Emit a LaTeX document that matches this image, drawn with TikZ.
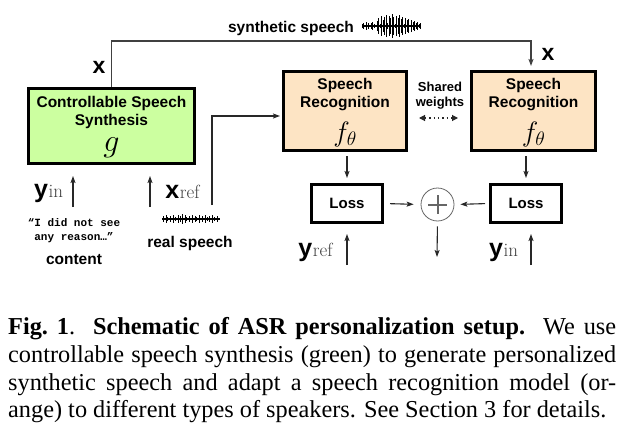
\documentclass[tikz,border=0pt]{standalone}
\usepackage{fix-cm}
\usepackage{fontspec}
\newfontfamily\hv{Liberation Sans}
\newfontfamily\tms{Liberation Serif}
\newfontfamily\mono{Liberation Mono}
\usetikzlibrary{arrows.meta,calc}
\definecolor{grn}{RGB}{204,255,160}
\definecolor{org}{RGB}{253,228,196}
\definecolor{ln}{RGB}{40,40,40}
\newcommand{\fsz}[1]{\fontsize{#1}{#1}\selectfont}
\newcommand{\sublbl}[3]{{\hv\bfseries\fsz{#1}#2}\kern0.6pt{\rmfamily\mdseries\fsz{19}\color{black!75}#3}}
\begin{document}
\begin{tikzpicture}[x=1pt,y=-1pt,
  blk/.style={draw=black, line width=2.6pt, inner sep=0pt},
  lbl/.style={font=\hv\bfseries\fsz{15.5}, inner sep=0pt},
  arr/.style={draw=ln, line width=1.1pt, -{Stealth[length=7pt,width=5pt,inset=1.5pt]}},
  wave/.style={draw=black, line width=0.8pt},
]
\path[use as bounding box] (0,0) rectangle (634,439);

% boxes
\node[blk, fill=grn, minimum width=166.4pt, minimum height=75.4pt] (g) at (111.5,126) {};
\node[blk, fill=org, minimum width=123.4pt, minimum height=79.4pt] (sr1) at (345,111) {};
\node[blk, fill=org, minimum width=124.4pt, minimum height=79.4pt] (sr2) at (533.5,111) {};
\node[blk, fill=white, minimum width=71.4pt, minimum height=38.4pt] (l1) at (347,203.5) {};
\node[blk, fill=white, minimum width=71.4pt, minimum height=38.4pt] (l2) at (526,203.5) {};
\node[circle, draw=black!60, line width=0.8pt, minimum size=33pt, inner sep=0pt] (plus) at (437.5,204.5) {};
\draw[black!60, line width=2pt] ($(plus.center)+(-9.5,0)$) -- ($(plus.center)+(9.5,0)$)
  ($(plus.center)+(0,-9.5)$) -- ($(plus.center)+(0,9.5)$);

% box texts
\node[lbl] at (111.5,103) {Controllable Speech};
\node[lbl] at (111.5,121) {Synthesis};
\node[inner sep=0pt, font=\fsz{32}] at (111.5,148) {$g$};
\foreach \b in {sr1,sr2}{
  \node[lbl] at ($(\b.center)+(0,-26)$) {Speech};
  \node[lbl] at ($(\b.center)+(0,-7)$) {Recognition};
  \node[inner sep=0pt, font=\fsz{28}] at ($(\b.center)+(0,23)$) {$f_\theta$};
}
\node[lbl, font=\hv\bfseries\fsz{15}] at (l1.center) {Loss};
\node[lbl, font=\hv\bfseries\fsz{15}] at (l2.center) {Loss};
\node[lbl, font=\hv\bfseries\fsz{13}] at (440,87) {Shared};
\node[lbl, font=\hv\bfseries\fsz{13}] at (440,103) {weights};

% connectors
\coordinate (tl) at (0,41);
\draw[arr, draw=black!75, line width=1.4pt, shorten >=4pt] (g.north) -- (g.north |- tl) -| ([xshift=-2.5pt]sr2.north);
\coordinate (rs) at (212,205);
\draw[arr, shorten >=2pt] (rs) |- ([yshift=-5pt]sr1.west);
\draw[arr, shorten <=4pt, shorten >=5pt] (sr1.south -| l1.north) -- (l1.north);
\draw[arr, shorten <=4pt, shorten >=5pt] (sr2.south -| l2.north) -- (l2.north);
\draw[arr, shorten <=6pt, shorten >=7pt] (l1.east) -- (plus.west);
\draw[arr, shorten <=4pt, shorten >=6pt] (l2.west) -- (plus.east);
\coordinate (pd) at (437,257);
\draw[arr, shorten <=5pt] (plus.south) -- (pd);
\coordinate (u1) at (347,265);
\coordinate (u2) at (531,265);
\draw[arr, shorten >=10pt] (u1) -- (u1 |- l1.south);
\draw[arr, shorten >=10pt] (u2) -- (u2 |- l2.south);
\coordinate (a1) at (73,207);
\coordinate (a2) at (150,207);
\draw[arr, shorten >=11pt] (a1) -- (a1 |- g.south);
\draw[arr, shorten >=11pt] (a2) -- (a2 |- g.south);
\coordinate (sw1) at (419,118);
\coordinate (sw2) at (458,118);
\draw[draw=ln, line width=1.1pt, dash pattern=on 1.4pt off 3pt,
  {Triangle[length=6pt,width=6pt]}-{Triangle[length=6pt,width=6pt]}] (sw1) -- (sw2);

% labels
\node[lbl] at (291,28) {synthetic speech};
\node[inner sep=0pt, anchor=base, font=\hv\bfseries\fsz{23}] at (99,73) {x};
\node[inner sep=0pt, anchor=base, font=\hv\bfseries\fsz{23}] at (548,60) {x};
\node[inner sep=0pt, anchor=base] at (48.5,197) {\sublbl{25}{y}{in}};
\node[inner sep=0pt, anchor=base] at (182.5,198) {\sublbl{25}{x}{ref}};
\node[inner sep=0pt, anchor=base] at (315.5,256) {\sublbl{25}{y}{ref}};
\node[inner sep=0pt, anchor=base] at (503.5,256) {\sublbl{25}{y}{in}};
\node[inner sep=0pt, align=center, font=\mono\bfseries\fontsize{11}{14}\selectfont] at (74,231) {“I did not see\\any reason…”};
\node[lbl] at (74,260) {content};
\node[lbl] at (190,243) {real speech};

% waveforms
\draw[wave, line width=1.6pt] (362,26) -- (421,26);
\foreach \h [count=\i from 0] in {2,3,1,4,3,1,3,4,2,1,5,8,2,10,6,9,11,3,10,8,12,9,2,10,8,11,7,9,2,8,6,7,1,6,4,5,3,4,2,3}
  \draw[wave] (362+1.5*\i,26-\h) -- (362+1.5*\i,26+\h);
\draw[wave, line width=1.6pt] (162,219) -- (220,219);
\foreach \h [count=\i from 0] in {1,3,1,4,2,1,3,1,4,2,1,4,1,3,5,1,4,2,1,3,1,4,1,3,2,1,4,1,3,1,4,2,1,3,1,4,2,1,3,1}
  \draw[wave] (162+1.45*\i,219-\h) -- (162+1.45*\i,219+\h);

% caption
\node[anchor=north west, inner sep=0pt, text width=608pt, align=justify,
  font=\tms\fontsize{24.3}{27.7}\selectfont] (cap) at (8,317.5)
  {\hyphenpenalty=10000\noindent{\bfseries Fig.~1}.\ \ {\bfseries Schematic of ASR personalization setup.}\ \ We use\linebreak
  controllable speech synthesis (green) to generate personalized\linebreak
  synthetic speech and adapt a speech recognition model (or-\linebreak
  ange) to different types of speakers. See Section 3 for details.};
\end{tikzpicture}
\end{document}
